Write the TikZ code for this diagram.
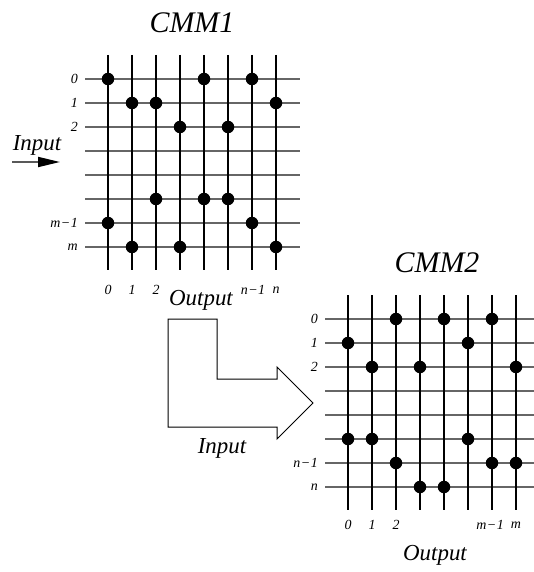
\documentclass[tikz,border=0pt]{standalone}
\usepackage{fontspec}
\setmainfont{Liberation Serif}
\usetikzlibrary{arrows.meta}
\begin{document}
\begin{tikzpicture}[x=1bp,y=-1bp,
  hline/.style={draw=black!60,line width=1.8bp},
  vline/.style={draw=black,line width=1.3bp},
  dotmark/.style={circle,fill=black,inner sep=0pt,minimum size=12.5bp},
  idx/.style={font=\fontsize{14}{14}\selectfont\itshape,inner sep=1bp},
  title/.style={font=\fontsize{30}{30}\selectfont\itshape,inner sep=0pt},
  axis/.style={font=\fontsize{23}{23}\selectfont\itshape,inner sep=0pt},
  bigarrow/.style={draw=black,line width=1bp,fill=white}]
\useasboundingbox (0,0) rectangle (534,572);

% ---------- first matrix ----------
\foreach \i in {0,...,7} \draw[hline] (85,79+24*\i) -- (300,79+24*\i);
\foreach \j in {0,...,7} \draw[vline] (108+24*\j,55) -- (108+24*\j,270);
\foreach \c/\r in {0/0,4/0,6/0, 1/1,2/1,7/1, 3/2,5/2, 2/5,4/5,5/5, 0/6,6/6, 1/7,3/7,7/7}
  \node[dotmark] (a\c\r) at (108+24*\c,79+24*\r) {};
\node[idx,anchor=east] (ar0) at (79,79) {0};
\node[idx,anchor=east] (ar1) at (79,103) {1};
\node[idx,anchor=east] (ar2) at (79,127) {2};
\node[idx,anchor=east] (ar6) at (79,223) {m\kern0.5pt−\kern0.5pt1};
\node[idx,anchor=east] (ar7) at (79,247) {m};
\node[idx] (ac0) at (108,290) {0};
\node[idx] (ac1) at (132,290) {1};
\node[idx] (ac2) at (156,290) {2};
\node[idx] (ac6) at (253,290) {n\kern0.5pt−\kern0.5pt1};
\node[idx] (ac7) at (276,290) {n};
\node[title] (t1) at (192,23) {CMM1};
\node[axis] (in1) at (37,145) {Input};
\node[axis] (out1) at (201,300) {Output};
\coordinate (ina) at (12,162);
\coordinate (inb) at (60,162);
\draw[draw=black!65,line width=1.8bp,-{Triangle[length=22bp,width=10bp,color=black]}] (ina) -- (inb);

% ---------- transfer arrow ----------
\coordinate (p1) at (168,319);
\coordinate (p2) at (217,319);
\coordinate (p3) at (217,379);
\coordinate (p4) at (277,379);
\coordinate (p5) at (277,367);
\coordinate (p6) at (313,403);
\coordinate (p7) at (277,439);
\coordinate (p8) at (277,427);
\coordinate (p9) at (168,427);
\draw[bigarrow] (p1) -- (p2) -- (p3) -- (p4) -- (p5) -- (p6) -- (p7) -- (p8) -- (p9) -- cycle;
\node[axis] (in2) at (222,448) {Input};

% ---------- second matrix ----------
\foreach \i in {0,...,7} \draw[hline] (325,319+24*\i) -- (534,319+24*\i);
\foreach \j in {0,...,7} \draw[vline] (348+24*\j,295) -- (348+24*\j,510);
\foreach \c/\r in {2/0,4/0,6/0, 0/1,5/1, 1/2,3/2,7/2, 0/5,1/5,5/5, 2/6,6/6,7/6, 3/7,4/7}
  \node[dotmark] (b\c\r) at (348+24*\c,319+24*\r) {};
\node[idx,anchor=east] (br0) at (319,319) {0};
\node[idx,anchor=east] (br1) at (319,343) {1};
\node[idx,anchor=east] (br2) at (319,367) {2};
\node[idx,anchor=east] (br6) at (319,463) {n\kern0.5pt−\kern0.5pt1};
\node[idx,anchor=east] (br7) at (319,487) {n};
\node[idx] (bc0) at (348,525) {0};
\node[idx] (bc1) at (372,525) {1};
\node[idx] (bc2) at (396,525) {2};
\node[idx] (bc6) at (490,525) {m\kern0.5pt−\kern0.5pt1};
\node[idx] (bc7) at (516,525) {m};
\node[title] (t2) at (437,263) {CMM2};
\node[axis] (out2) at (435,555) {Output};
\end{tikzpicture}
\end{document}
